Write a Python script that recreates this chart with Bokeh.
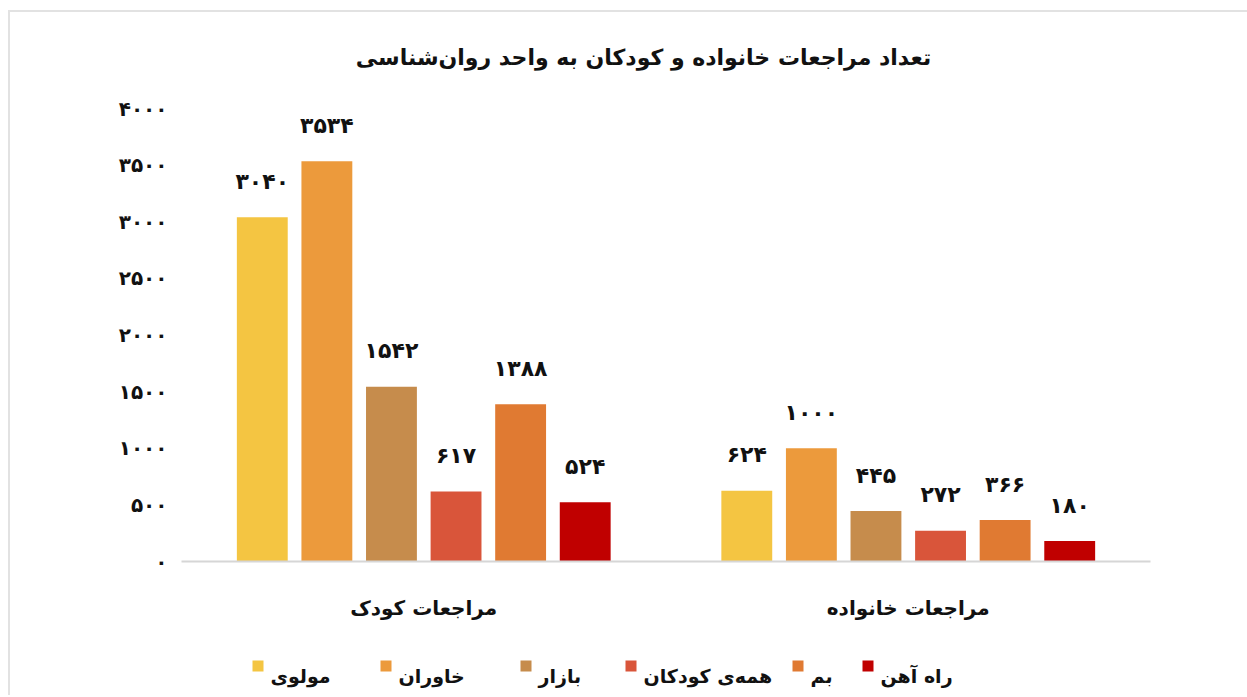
from bokeh.plotting import figure
from bokeh.models import Range1d, FactorRange, FixedTicker, ColumnDataSource
from bokeh.transform import dodge
from bokeh.layouts import column
from bokeh.core.properties import value
from bokeh.embed import file_html
from bokeh.resources import INLINE

# ---------------- data ----------------
title_text = "تعداد مراجعات خانواده و کودکان به واحد روان‌شناسی"
categories = ["مراجعات کودک", "مراجعات خانواده"]
series_names = ["مولوی", "خاوران", "بازار", "همه‌ی کودکان", "بم", "راه آهن"]
molavi = [3040, 624]
khavaran = [3534, 1000]
bazar = [1542, 445]
hame_kudakan = [617, 272]
bam = [1388, 366]
rah_ahan = [524, 180]
y_ticks = [0, 500, 1000, 1500, 2000, 2500, 3000, 3500, 4000]

series_values = [molavi, khavaran, bazar, hame_kudakan, bam, rah_ahan]
colors = ["#F4C542", "#EC9A3C", "#C68C4C", "#D9553A", "#E07A32", "#C00000"]

FONT = "DejaVu Sans"
FA = str.maketrans("0123456789", "۰۱۲۳۴۵۶۷۸۹")


def fa(n):
    return str(n).translate(FA)


# strips share the main chart's frame width (column aligns frames): page x 181..1150
def strip(height, y0, y1):
    f = figure(width=1237, height=height, x_range=Range1d(181, 1150), y_range=Range1d(y1, y0),
               output_backend="svg", toolbar_location=None,
               min_border_left=171, min_border_right=97, min_border_top=0, min_border_bottom=0)
    f.axis.visible = False
    f.grid.visible = False
    f.outline_line_color = None
    f.border_fill_color = "white"
    return f


# ---------------- title strip ----------------
tfig = strip(60, 12, 72)
tfig.text(x=[643], y=[57], text=[title_text], text_align="center", text_baseline="middle",
          text_font=value(FONT), text_font_style="bold", text_font_size="22px",
          text_color="#111111")

# ---------------- main chart ----------------
p = figure(x_range=FactorRange(*categories, range_padding=0),
           y_range=Range1d(0, 4000),
           width=1237, height=568,
           output_backend="svg", toolbar_location=None,
           min_border_left=171, min_border_right=97,
           min_border_top=36, min_border_bottom=79)

step = 0.1333
bar_w = 0.105
for i, vals in enumerate(series_values):
    off = (i - 2.5) * step
    src = ColumnDataSource(dict(cat=categories, val=vals, lab=[fa(v) for v in vals]))
    p.vbar(x=dodge("cat", off, range=p.x_range), top="val", width=bar_w,
           color=colors[i], line_color=None, source=src)
    p.text(x=dodge("cat", off, range=p.x_range), y="val", text="lab",
           text_align="center", text_baseline="middle", y_offset=-36,
           text_font=value(FONT), text_font_style="bold",
           text_font_size="22px", text_color="#111111", source=src)

p.outline_line_color = None
p.xgrid.grid_line_color = None
p.ygrid.grid_line_color = None
p.background_fill_color = "white"
p.border_fill_color = "white"

p.xaxis.axis_line_color = "#d6d6d6"
p.xaxis.axis_line_width = 2
p.xaxis.major_tick_line_color = None
p.xaxis.minor_tick_line_color = None
p.xaxis.major_label_text_font = FONT
p.xaxis.major_label_text_font_style = "bold"
p.xaxis.major_label_text_font_size = "20px"
p.xaxis.major_label_text_color = "#111111"
p.xaxis.major_label_standoff = 28

p.yaxis.axis_line_color = None
p.yaxis.major_tick_line_color = None
p.yaxis.minor_tick_line_color = None
p.yaxis.ticker = FixedTicker(ticks=y_ticks)
p.yaxis.major_label_overrides = {t: fa(t) for t in y_ticks}
p.yaxis.major_label_text_font = FONT
p.yaxis.major_label_text_font_style = "bold"
p.yaxis.major_label_text_font_size = "20px"
p.yaxis.major_label_text_color = "#111111"
p.yaxis.major_label_standoff = 8

# ---------------- legend strip ----------------
leg = strip(55, 640, 695)

sq_left = [252, 380, 520, 625, 792, 862]
sq_size = 11
sq_top = 660
text_y = 675
leg_src = ColumnDataSource(dict(
    left=sq_left,
    right=[x + sq_size for x in sq_left],
    top=[sq_top] * len(sq_left),
    bottom=[sq_top + sq_size] * len(sq_left),
    tx=[x + 18 for x in sq_left],
    ty=[text_y] * len(sq_left),
    name=series_names,
    color=colors,
))
leg.quad(left="left", right="right", top="top", bottom="bottom",
         fill_color="color", line_color=None, source=leg_src)
leg.text(x="tx", y="ty", text="name", text_align="left", text_baseline="middle",
         text_font=value(FONT), text_font_style="bold", text_font_size="19px",
         text_color="#111111", source=leg_src)

layout = column(tfig, p, leg, margin=(10, 0, 0, 8),
                styles={"border-left": "2px solid #e2e2e2", "border-top": "2px solid #e2e2e2"})

open("out.html", "w").write(file_html(layout, INLINE))
